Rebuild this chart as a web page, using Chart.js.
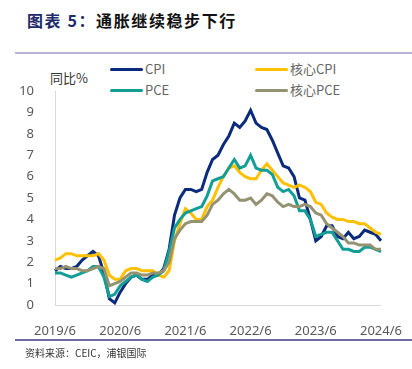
<!DOCTYPE html>
<html>
<head>
<meta charset="utf-8">
<script src="https://cdn.jsdelivr.net/npm/chart.js@4.4.1/dist/chart.umd.min.js"></script>
<style>
  body { margin: 0; background: #fff; width: 412px; height: 369px; overflow: hidden; position: relative;
         font-family: "Noto Sans CJK SC", "Noto Sans", sans-serif; }
  #title { position: absolute; left: 27px; top: 8px; font-size: 16px; font-weight: bold; letter-spacing: 1.6px; color: #111; white-space: nowrap; }
  #title .num { color: #1f2a6b; }
  .rule { position: absolute; left: 15px; right: 0; height: 2px; }
  #source { position: absolute; left: 25px; top: 345px; font-size: 10px; color: #333; white-space: nowrap; }
  #unit { position: absolute; left: 50px; top: 68px; font-size: 13px; color: #333; }
  .leg { position: absolute; font-size: 13px; color: #666; white-space: nowrap; line-height: 16px; }
  .leg i { display: inline-block; width: 33px; height: 3px; border-radius: 2px; vertical-align: middle; margin-right: 2px; position: relative; top: -1px; }
  canvas { position: absolute; left: 0; top: 0; }
</style>
</head>
<body>
<div id="title"><span class="num">图表 5：</span>通胀继续稳步下行</div>
<div class="rule" style="top:52px;background:#b4b3d3;"></div>
<div id="unit">同比%</div>
<div id="legend"></div>
<canvas id="chart" width="412" height="369"></canvas>
<div class="rule" style="top:339px;background:#6b6aa6;height:1.5px;"></div>
<div id="source">资料来源：CEIC，浦银国际</div>
<script>
// monthly, 2019/6 .. 2024/6
const months = [];
for (let y = 2019, m = 6; y < 2024 || (y === 2024 && m <= 6); m++) {
  if (m > 12) { m = 1; y++; }
  months.push(y + '/' + m);
}

const cpi = [
  1.6, 1.8, 1.7, 1.7, 1.8, 2.1, 2.3,
  2.5, 2.3, 1.5, 0.3, 0.1, 0.6, 1.0, 1.3, 1.4, 1.2, 1.2, 1.4,
  1.4, 1.7, 2.6, 4.2, 5.0, 5.4, 5.4, 5.3, 5.4, 6.2, 6.8, 7.0,
  7.5, 7.9, 8.5, 8.3, 8.6, 9.1, 8.5, 8.3, 8.2, 7.7, 7.1, 6.5,
  6.4, 6.0, 5.0, 4.9, 4.0, 3.0, 3.2, 3.7, 3.7, 3.2, 3.1, 3.4,
  3.1, 3.2, 3.5, 3.4, 3.3, 3.0
];
const coreCpi = [
  2.1, 2.2, 2.4, 2.4, 2.3, 2.3, 2.3,
  2.3, 2.4, 2.1, 1.4, 1.2, 1.2, 1.6, 1.7, 1.7, 1.6, 1.6, 1.6,
  1.4, 1.3, 1.6, 3.0, 3.8, 4.5, 4.3, 4.0, 4.0, 4.6, 4.9, 5.5,
  6.0, 6.4, 6.5, 6.2, 6.0, 5.9, 5.9, 6.3, 6.6, 6.3, 6.0, 5.7,
  5.6, 5.5, 5.6, 5.5, 5.3, 4.8, 4.7, 4.3, 4.1, 4.0, 4.0, 3.9,
  3.9, 3.8, 3.8, 3.6, 3.4, 3.3
];
const pce = [
  1.5, 1.5, 1.4, 1.3, 1.4, 1.5, 1.6,
  1.8, 1.8, 1.3, 0.4, 0.5, 0.9, 1.1, 1.3, 1.4, 1.2, 1.1, 1.3,
  1.4, 1.6, 2.5, 3.6, 4.0, 4.3, 4.4, 4.5, 4.6, 5.1, 5.8, 5.9,
  6.0, 6.4, 6.8, 6.4, 6.5, 7.0, 6.4, 6.3, 6.3, 6.1, 5.5, 5.3,
  5.4, 5.1, 4.4, 4.4, 4.0, 3.2, 3.3, 3.4, 3.4, 3.0, 2.6, 2.6,
  2.5, 2.5, 2.7, 2.7, 2.6, 2.5
];
const corePce = [
  1.7, 1.7, 1.8, 1.7, 1.7, 1.6, 1.6,
  1.7, 1.8, 1.7, 0.9, 1.0, 1.1, 1.3, 1.5, 1.5, 1.4, 1.4, 1.5,
  1.5, 1.6, 2.0, 3.1, 3.5, 3.8, 3.9, 3.9, 3.9, 4.2, 4.7, 4.9,
  5.2, 5.4, 5.2, 4.9, 4.9, 5.0, 4.7, 4.9, 5.2, 5.1, 4.8, 4.6,
  4.7, 4.6, 4.6, 4.7, 4.6, 4.3, 4.2, 3.8, 3.6, 3.4, 3.2, 2.9,
  2.9, 2.8, 2.8, 2.8, 2.6, 2.6
];
const seriesNames = ['CPI', '核心CPI', 'PCE', '核心PCE'];
const seriesColors = ['#0a2a7c', '#ffc000', '#129e97', '#959272'];
const yTicks = [0, 1, 2, 3, 4, 5, 6, 7, 8, 9, 10];

// html legend, two columns
const legendPos = [[110, 61], [255, 61], [110, 82], [255, 82]];
const legendEl = document.getElementById('legend');
seriesNames.forEach((name, i) => {
  const d = document.createElement('div');
  d.className = 'leg';
  d.style.left = legendPos[i][0] + 'px';
  d.style.top = legendPos[i][1] + 'px';
  d.innerHTML = '<i style="background:' + seriesColors[i] + '"></i>' + name;
  legendEl.appendChild(d);
});

const allData = [cpi, coreCpi, pce, corePce];
const datasets = seriesNames.map((name, i) => ({
  label: name,
  data: allData[i],
  borderColor: seriesColors[i],
  backgroundColor: seriesColors[i],
  borderWidth: 3,
  pointRadius: 0,
  tension: 0,
  order: 3 - i
}));

new Chart(document.getElementById('chart'), {
  type: 'line',
  data: { labels: months, datasets: datasets },
  options: {
    responsive: false,
    animation: false,
    layout: { padding: { left: 20, top: 91, right: 30, bottom: 34 } },
    plugins: { legend: { display: false }, tooltip: { enabled: false } },
    scales: {
      x: {
        offset: false,
        grid: { display: false },
        border: { display: true, color: '#d9d9d9', width: 1 },
        ticks: {
          autoSkip: false,
          maxRotation: 0,
          padding: 10,
          color: '#595959',
          font: { family: 'Noto Sans', size: 13 },
          callback: function (v, i) { return i % 12 === 0 ? months[i] : ''; }
        },
        afterFit: s => { s.height = 30; }
      },
      y: {
        min: 0,
        max: 10,
        grid: { display: false },
        border: { display: true, color: '#d9d9d9', width: 1 },
        afterBuildTicks: s => { s.ticks = yTicks.map(v => ({ value: v })); },
        ticks: {
          padding: 13,
          color: '#595959',
          font: { family: 'Noto Sans', size: 13 }
        },
        afterFit: s => { s.width = 35; }
      }
    }
  }
});
</script>
</body>
</html>
